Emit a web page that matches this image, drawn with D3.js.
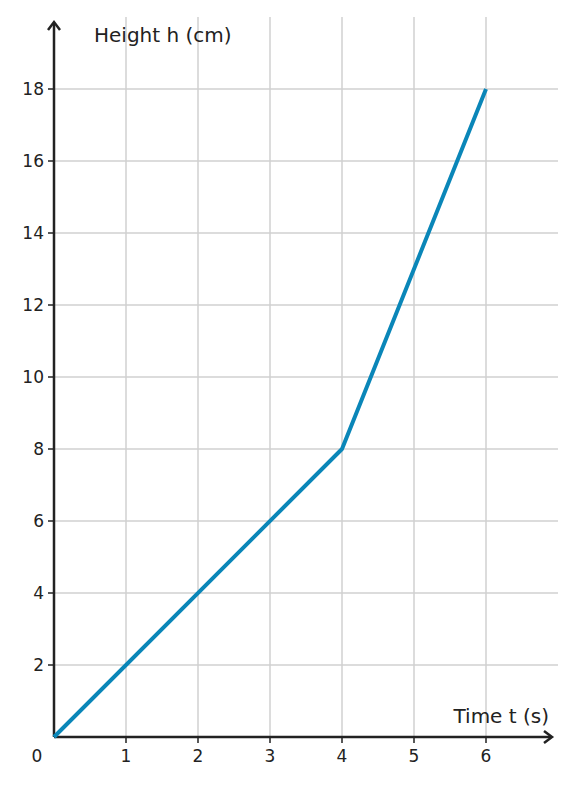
<!DOCTYPE html>
<html><head><meta charset="utf-8">
<script src="https://cdn.jsdelivr.net/npm/d3@7"></script>
<style>body{margin:0;background:#fff}</style></head>
<body><svg id="c" width="576" height="785"></svg>
<script>
const times=[0,4,6];
const heights=[0,8,18];
const xTicks=[1,2,3,4,5,6];
const yTicks=[2,4,6,8,10,12,14,16,18];
const svg=d3.select("#c");
const x=d3.scaleLinear().domain([0,7]).range([54,558]);
const y=d3.scaleLinear().domain([0,20]).range([737,17]);
const font="DejaVu Sans, sans-serif", col="#222";
svg.append("g").selectAll("line").data(xTicks).join("line")
 .attr("x1",d=>x(d)).attr("x2",d=>x(d)).attr("y1",y(0)).attr("y2",y(20))
 .attr("stroke","#d0d0d0").attr("stroke-width",1.5);
svg.append("g").selectAll("line").data(yTicks).join("line")
 .attr("x1",x(0)).attr("x2",x(7)).attr("y1",d=>y(d)).attr("y2",d=>y(d))
 .attr("stroke","#d0d0d0").attr("stroke-width",1.5);
// ticks
svg.append("g").selectAll("line").data(xTicks).join("line")
 .attr("x1",d=>x(d)).attr("x2",d=>x(d)).attr("y1",y(0)).attr("y2",y(0)+6).attr("stroke",col).attr("stroke-width",1.5);
svg.append("g").selectAll("line").data(yTicks).join("line")
 .attr("x1",x(0)-6).attr("x2",x(0)).attr("y1",d=>y(d)).attr("y2",d=>y(d)).attr("stroke",col).attr("stroke-width",1.5);
svg.append("g").selectAll("text").data(xTicks).join("text")
 .attr("x",d=>x(d)).attr("y",762).attr("text-anchor","middle").attr("font-family",font).attr("font-size",17).attr("fill",col).text(d=>d);
svg.append("g").selectAll("text").data(yTicks).join("text")
 .attr("x",44).attr("y",d=>y(d)+6).attr("text-anchor","end").attr("font-family",font).attr("font-size",17).attr("fill",col).text(d=>d);
svg.append("text").attr("x",37).attr("y",762).attr("text-anchor","middle").attr("font-family",font).attr("font-size",17).attr("fill",col).text("0");
// axes
svg.append("line").attr("x1",x(0)).attr("x2",551).attr("y1",y(0)).attr("y2",y(0)).attr("stroke",col).attr("stroke-width",2.5);
svg.append("line").attr("x1",x(0)).attr("x2",x(0)).attr("y1",y(0)).attr("y2",23).attr("stroke",col).attr("stroke-width",2.5);
svg.append("path").attr("d",`M${544},${y(0)-6}L${552},${y(0)}L${544},${y(0)+6}`).attr("fill","none").attr("stroke",col).attr("stroke-width",2.5);
svg.append("path").attr("d",`M${x(0)-6},30L${x(0)},22L${x(0)+6},30`).attr("fill","none").attr("stroke",col).attr("stroke-width",2.5);
svg.append("text").attr("x",94).attr("y",42).attr("font-family",font).attr("font-size",20).attr("fill",col).text("Height h (cm)");
svg.append("text").attr("x",549).attr("y",723).attr("text-anchor","end").attr("font-family",font).attr("font-size",20).attr("fill",col).text("Time t (s)");
const pts=times.map((t,i)=>[t,heights[i]]);
svg.append("path").datum(pts).attr("d",d3.line().x(d=>x(d[0])).y(d=>y(d[1])))
 .attr("fill","none").attr("stroke","#0a86b8").attr("stroke-width",4).attr("stroke-linejoin","round");
</script></body></html>
